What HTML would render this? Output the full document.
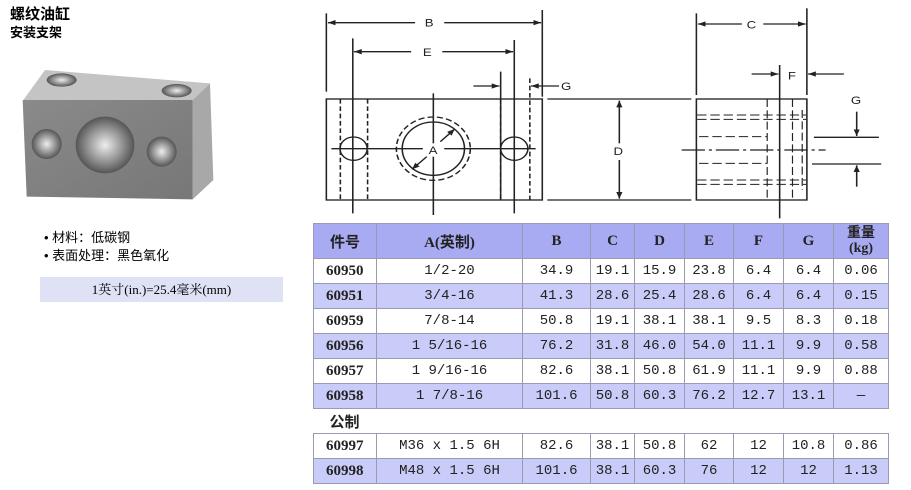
<!DOCTYPE html>
<html><head><meta charset="utf-8"><style>
body{margin:0;width:911px;height:490px;background:#fff;position:relative;overflow:hidden;font-family:"Liberation Serif","Noto Serif CJK SC","Noto Sans CJK SC",serif;}
.abs{position:absolute}
table{position:absolute;left:313px;top:223px;border-collapse:collapse;font-size:14px;color:#222;font-family:"Liberation Mono","Noto Sans CJK SC",monospace}
td{border:1px solid #9a9ab0;text-align:center;height:24px;padding:0}
td.k{font-family:"Liberation Serif","Noto Sans CJK SC",serif;font-weight:bold;text-align:left;padding-left:12px;font-size:15px}
tr.h td{background:#a9abf2;height:34px;font-weight:bold;font-family:"Liberation Serif","Noto Sans CJK SC",serif;font-size:15px}
tr.a td{background:#c9cbf8}
</style></head><body>
<div class="abs" style="left:10px;top:3px;font:bold 15px 'Liberation Sans','Noto Sans CJK SC',sans-serif">螺纹油缸</div>
<div class="abs" style="left:10px;top:22px;font:bold 13px 'Liberation Sans','Noto Sans CJK SC',sans-serif">安装支架</div>
<svg class="abs" style="left:0;top:0" width="300" height="210" viewBox="0 0 900 630">
<defs><radialGradient id="h" cx="50%" cy="50%" r="50%"><stop offset="0" stop-color="#eee"/><stop offset="1" stop-color="#555"/></radialGradient>
<linearGradient id="f" x1="0" y1="0" x2="1" y2="1"><stop offset="0" stop-color="#8a8a8a"/><stop offset="1" stop-color="#777"/></linearGradient></defs>
<polygon points="70,300 135,210 630,250 578,300" fill="#c4c4c4"/>
<polygon points="578,300 630,250 640,540 578,598" fill="#a8a8a8"/>
<polygon points="68,300 578,300 578,598 80,590" fill="url(#f)"/>
<ellipse cx="185" cy="240" rx="45" ry="20" fill="url(#h)"/>
<ellipse cx="530" cy="272" rx="45" ry="20" fill="url(#h)"/>
<ellipse cx="140" cy="432" rx="45" ry="45" fill="url(#h)"/>
<ellipse cx="485" cy="455" rx="45" ry="45" fill="url(#h)"/>
<ellipse cx="315" cy="435" rx="88" ry="85" fill="url(#h)"/>
</svg>
<div class="abs" style="left:44px;top:229px;font-size:13px;line-height:18px;font-family:'Liberation Sans','Noto Sans CJK SC',sans-serif">• 材料：低碳钢<br>• 表面处理：黑色氧化</div>
<div class="abs" style="left:40px;top:277px;width:243px;height:25px;background:#dfe1f5;text-align:center;line-height:25px;font-size:13px">1英寸(in.)=25.4毫米(mm)</div>
<svg class="abs" style="left:310px;top:0" width="600" height="220" viewBox="0 0 1542 660" preserveAspectRatio="none" stroke="#222" stroke-width="4" fill="none" font-family="Liberation Sans" font-size="34">
<defs><marker id="ar" viewBox="0 0 10 10" refX="10" refY="5" markerWidth="5" markerHeight="5" orient="auto-start-reverse" markerUnits="strokeWidth"><path d="M0,1 L10,5 L0,9z" fill="#222" stroke="none"/></marker></defs>
<rect x="42" y="297" width="555" height="303"/>
<line x1="42" y1="40" x2="42" y2="275"/><line x1="597" y1="30" x2="597" y2="290"/>
<line x1="270" y1="68" x2="46" y2="68" marker-end="url(#ar)"/><line x1="345" y1="68" x2="594" y2="68" marker-end="url(#ar)"/>
<text x="295" y="80" fill="#222" stroke="none">B</text>
<line x1="110" y1="115" x2="110" y2="640"/><line x1="525" y1="120" x2="525" y2="640"/>
<line x1="260" y1="155" x2="113" y2="155" marker-end="url(#ar)"/><line x1="340" y1="155" x2="522" y2="155" marker-end="url(#ar)"/>
<text x="290" y="168" fill="#222" stroke="none">E</text>
<line x1="490" y1="215" x2="490" y2="600"/><line x1="565" y1="235" x2="565" y2="600" stroke-dasharray="14 8"/>
<line x1="420" y1="258" x2="487" y2="258" marker-end="url(#ar)"/><line x1="640" y1="258" x2="568" y2="258" marker-end="url(#ar)"/>
<text x="645" y="270" fill="#222" stroke="none">G</text>
<line x1="78" y1="297" x2="78" y2="600" stroke-dasharray="14 8"/><line x1="148" y1="297" x2="148" y2="600" stroke-dasharray="14 8"/>
<line x1="490" y1="297" x2="490" y2="600" stroke-dasharray="14 8"/>
<circle cx="112" cy="446" r="35"/><circle cx="525" cy="446" r="35"/>
<circle cx="317" cy="446" r="80"/><circle cx="317" cy="446" r="95" stroke-dasharray="16 8"/>
<line x1="55" y1="446" x2="290" y2="446"/><line x1="345" y1="446" x2="580" y2="446"/>
<line x1="317" y1="280" x2="317" y2="430"/><line x1="317" y1="470" x2="317" y2="645"/>
<line x1="300" y1="470" x2="262" y2="508" marker-end="url(#ar)"/><line x1="335" y1="425" x2="372" y2="387" marker-end="url(#ar)"/>
<text x="305" y="462" fill="#222" stroke="none">A</text>
<line x1="610" y1="297" x2="980" y2="297"/><line x1="610" y1="600" x2="980" y2="600"/>
<line x1="795" y1="430" x2="795" y2="302" marker-end="url(#ar)"/><line x1="795" y1="480" x2="795" y2="596" marker-end="url(#ar)"/>
<text x="780" y="465" fill="#222" stroke="none">D</text>
<rect x="993" y="297" width="284" height="303"/>
<line x1="993" y1="40" x2="993" y2="285"/><line x1="1277" y1="25" x2="1277" y2="285"/>
<line x1="1110" y1="72" x2="997" y2="72" marker-end="url(#ar)"/><line x1="1165" y1="72" x2="1274" y2="72" marker-end="url(#ar)"/>
<text x="1122" y="86" fill="#222" stroke="none">C</text>
<line x1="1207" y1="195" x2="1207" y2="655"/>
<line x1="1135" y1="222" x2="1204" y2="222" marker-end="url(#ar)"/><line x1="1372" y1="222" x2="1280" y2="222" marker-end="url(#ar)"/>
<text x="1228" y="238" fill="#222" stroke="none">F</text>
<text x="1390" y="312" fill="#222" stroke="none">G</text>
<line x1="1405" y1="335" x2="1405" y2="408" marker-end="url(#ar)"/><line x1="1405" y1="560" x2="1405" y2="496" marker-end="url(#ar)"/>
<line x1="1295" y1="412" x2="1462" y2="412"/><line x1="1290" y1="492" x2="1468" y2="492"/>
<line x1="955" y1="450" x2="1325" y2="450" stroke-dasharray="60 10 8 10"/>
<g stroke-dasharray="24 10" stroke-width="3">
<line x1="995" y1="345" x2="1275" y2="345"/><line x1="995" y1="358" x2="1275" y2="358"/>
<line x1="1000" y1="410" x2="1175" y2="410"/><line x1="1000" y1="490" x2="1175" y2="490"/>
<line x1="995" y1="540" x2="1275" y2="540"/><line x1="995" y1="553" x2="1275" y2="553"/>
<line x1="1175" y1="297" x2="1175" y2="600"/><line x1="1240" y1="297" x2="1240" y2="600"/>
<line x1="1265" y1="330" x2="1265" y2="570"/>
</g>
</svg>
<table>
<colgroup><col width="63"><col width="146"><col width="68"><col width="44"><col width="50"><col width="49"><col width="50"><col width="50"><col width="55"></colgroup>
<tr class="h"><td>件号</td><td>A(英制)</td><td>B</td><td>C</td><td>D</td><td>E</td><td>F</td><td>G</td><td style="line-height:15px;font-size:14px">重量<br>(kg)</td></tr>
<tr><td class="k">60950</td><td>1/2-20</td><td>34.9</td><td>19.1</td><td>15.9</td><td>23.8</td><td>6.4</td><td>6.4</td><td>0.06</td></tr>
<tr class="a"><td class="k">60951</td><td>3/4-16</td><td>41.3</td><td>28.6</td><td>25.4</td><td>28.6</td><td>6.4</td><td>6.4</td><td>0.15</td></tr>
<tr><td class="k">60959</td><td>7/8-14</td><td>50.8</td><td>19.1</td><td>38.1</td><td>38.1</td><td>9.5</td><td>8.3</td><td>0.18</td></tr>
<tr class="a"><td class="k">60956</td><td>1 5/16-16</td><td>76.2</td><td>31.8</td><td>46.0</td><td>54.0</td><td>11.1</td><td>9.9</td><td>0.58</td></tr>
<tr><td class="k">60957</td><td>1 9/16-16</td><td>82.6</td><td>38.1</td><td>50.8</td><td>61.9</td><td>11.1</td><td>9.9</td><td>0.88</td></tr>
<tr class="a"><td class="k">60958</td><td>1 7/8-16</td><td>101.6</td><td>50.8</td><td>60.3</td><td>76.2</td><td>12.7</td><td>13.1</td><td>—</td></tr>
<tr><td colspan="9" class="k" style="padding-left:16px;border-left:none;border-right:none">公制</td></tr>
<tr><td class="k">60997</td><td>M36 x 1.5 6H</td><td>82.6</td><td>38.1</td><td>50.8</td><td>62</td><td>12</td><td>10.8</td><td>0.86</td></tr>
<tr class="a"><td class="k">60998</td><td>M48 x 1.5 6H</td><td>101.6</td><td>38.1</td><td>60.3</td><td>76</td><td>12</td><td>12</td><td>1.13</td></tr>
</table>
</body></html>
